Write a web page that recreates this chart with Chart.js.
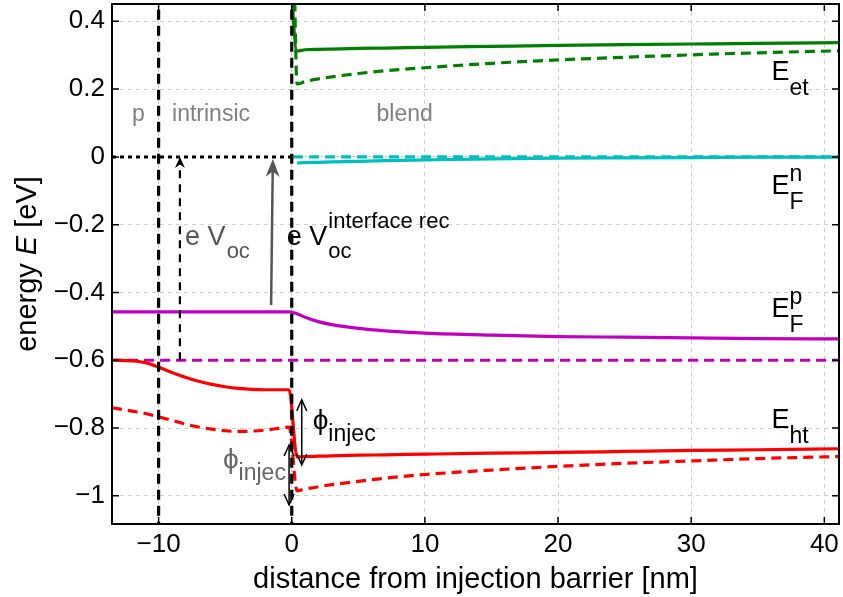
<!DOCTYPE html>
<html>
<head>
<meta charset="utf-8">
<script src="https://cdn.jsdelivr.net/npm/chart.js@4.4.0/dist/chart.umd.min.js"></script>
<style>html,body{margin:0;background:#fff}canvas{display:block}</style>
</head>
<body>
<canvas id="c" width="843" height="597"></canvas>
<script>
// axes
const xTicks = [-10, 0, 10, 20, 30, 40];
const yTicks = [-1, -0.8, -0.6, -0.4, -0.2, 0, 0.2, 0.4];
const xRange = [-13.5, 41.1];
const yRange = [-1.083, 0.451];

// p + intrinsic layers (x < 0)
const xLeft       = [-13.5, -12, -11, -10, -9, -8, -7, -6, -5, -4, -3, -2, -1, -0.2];
const htSolidLeft = [-0.600, -0.602, -0.607, -0.620, -0.636, -0.650, -0.662, -0.671, -0.678, -0.683, -0.686, -0.687, -0.687, -0.687];
const htDashLeft  = [-0.740, -0.750, -0.757, -0.767, -0.777, -0.788, -0.797, -0.803, -0.808, -0.810, -0.809, -0.806, -0.801, -0.797];
const fpSolidLeft = [-0.457, -0.457, -0.457, -0.457, -0.457, -0.457, -0.457, -0.457, -0.457, -0.457, -0.457, -0.457, -0.457, -0.457];

// blend (x > 0)
const xBlend  = [0.4, 1, 2, 3, 5, 7, 10, 15, 20, 25, 30, 35, 41.1];
const etSolid = [0.312, 0.316, 0.317, 0.318, 0.320, 0.321, 0.323, 0.326, 0.329, 0.331, 0.333, 0.335, 0.337];
const etDash  = [0.215, 0.222, 0.230, 0.236, 0.246, 0.254, 0.263, 0.276, 0.286, 0.294, 0.301, 0.307, 0.313];
const fnSolid = [-0.018, -0.017, -0.016, -0.015, -0.013, -0.011, -0.009, -0.006, -0.004, -0.003, -0.002, -0.001, -0.001];
const fpSolid = [-0.463, -0.473, -0.486, -0.495, -0.506, -0.513, -0.520, -0.526, -0.530, -0.532, -0.534, -0.536, -0.537];
const htSolid = [-0.885, -0.884, -0.883, -0.882, -0.880, -0.879, -0.877, -0.874, -0.872, -0.869, -0.866, -0.864, -0.861];
const htDash  = [-0.985, -0.980, -0.973, -0.967, -0.957, -0.948, -0.937, -0.924, -0.913, -0.904, -0.897, -0.890, -0.884];

// E_et enters from above the plot at the barrier
const etSolidEntry = {x: -0.2, y: 0.6};
const etDashEntry  = {x: 0.15, y: 0.6};
// flat levels
const fnDashLevel = 0;     // quasi-Fermi level of electrons (dashed)
const fpDashLevel = -0.6;  // quasi-Fermi level of holes (dashed)
const layerEdges = [-10, 0];

// annotation positions (data units)
const vocArrow = {x: -8.4, y0: -0.6, y1: 0};
const vocIfArrow = {x0: -1.55, y0: -0.437, x1: -1.42, y1: -0.006};
const phiArrow = {x: 0.75, y0: -0.717, y1: -0.909};
const phiArrowGray = {x: -0.2, y0: -0.850, y1: -1.027};

const pts = (xs, ys) => xs.map((x, i) => ({x, y: ys[i]}));
const FONT = '"Liberation Sans", Arial, Helvetica, sans-serif';

function line(data, color, dash, width) {
  return {data, borderColor: color, borderWidth: width || 3.2, borderDash: dash || [],
    pointRadius: 0, showLine: true, fill: false, cubicInterpolationMode: 'monotone'};
}
function straight(data, dash, width) {
  return {data, borderColor: '#000', borderWidth: width || 3.2, borderDash: dash,
    pointRadius: 0, showLine: true, fill: false, tension: 0};
}

const datasets = [
  straight([{x: layerEdges[0], y: -1.2}, {x: layerEdges[0], y: 0.6}], [10, 6]),
  straight([{x: layerEdges[1], y: -1.2}, {x: layerEdges[1], y: 0.6}], [10, 6]),
  straight([{x: xRange[0], y: 0}, {x: 0, y: 0}], [4, 4], 3),
  line(pts(xLeft, htSolidLeft).concat(pts(xBlend, htSolid)), '#ff0000'),
  line(pts(xLeft, htDashLeft).concat(pts(xBlend, htDash)), '#ff0000', [10, 6]),
  line(pts(xLeft, fpSolidLeft).concat(pts(xBlend, fpSolid)), '#bf00bf'),
  line([{x: xRange[0], y: fpDashLevel}, {x: xRange[1], y: fpDashLevel}], '#bf00bf', [10, 6]),
  line(pts(xBlend, fnSolid), '#00bfbf'),
  line([{x: 0.1, y: fnDashLevel}, {x: xRange[1], y: fnDashLevel}], '#00bfbf', [10, 6]),
  line([etSolidEntry].concat(pts(xBlend, etSolid)), '#008000'),
  line([etDashEntry].concat(pts(xBlend, etDash)), '#008000', [10, 6])
];

function arrowHead(ctx, x, y, ang, len, half, filled) {
  const bx = x - len * Math.cos(ang), by = y - len * Math.sin(ang);
  const px = -Math.sin(ang) * half, py = Math.cos(ang) * half;
  ctx.beginPath();
  if (filled) {
    const nx = x - len * 0.7 * Math.cos(ang), ny = y - len * 0.7 * Math.sin(ang);
    ctx.moveTo(x, y); ctx.lineTo(bx + px, by + py); ctx.lineTo(nx, ny); ctx.lineTo(bx - px, by - py);
    ctx.closePath(); ctx.fill();
  } else {
    ctx.moveTo(bx + px, by + py); ctx.lineTo(x, y); ctx.lineTo(bx - px, by - py); ctx.stroke();
  }
}

// text with optional sub/superscript
function tex(ctx, x, y, base, sub, sup, o) {
  ctx.fillStyle = o.color;
  ctx.textBaseline = 'alphabetic';
  ctx.textAlign = 'left';
  ctx.font = o.size + 'px ' + FONT;
  ctx.fillText(base, x, y);
  const w = ctx.measureText(base).width + (o.gap || 0);
  ctx.font = o.small + 'px ' + FONT;
  if (sub) ctx.fillText(sub, x + w, y + o.drop);
  if (sup) ctx.fillText(sup, x + w, y - o.rise);
}

const overlay = {
  id: 'overlay',
  afterDatasetsDraw(chart) {
    const {ctx, chartArea: a, scales: {x, y}} = chart;
    const X = v => x.getPixelForValue(v), Y = v => y.getPixelForValue(v);
    ctx.save();

    // e V_oc dashed arrow
    ctx.strokeStyle = '#000'; ctx.fillStyle = '#000'; ctx.lineWidth = 2.2;
    ctx.setLineDash([8, 6]);
    ctx.beginPath(); ctx.moveTo(X(vocArrow.x), Y(vocArrow.y0)); ctx.lineTo(X(vocArrow.x), Y(vocArrow.y1) + 6); ctx.stroke();
    ctx.setLineDash([]);
    arrowHead(ctx, X(vocArrow.x), Y(vocArrow.y1), -Math.PI / 2, 11, 5, true);

    // interface rec arrow (gray)
    ctx.strokeStyle = '#555'; ctx.fillStyle = '#555'; ctx.lineWidth = 2.5;
    const gx0 = X(vocIfArrow.x0), gy0 = Y(vocIfArrow.y0), gx1 = X(vocIfArrow.x1), gy1 = Y(vocIfArrow.y1);
    const ga = Math.atan2(gy1 - gy0, gx1 - gx0);
    ctx.beginPath(); ctx.moveTo(gx0, gy0); ctx.lineTo(gx1 - 10 * Math.cos(ga), gy1 - 10 * Math.sin(ga)); ctx.stroke();
    arrowHead(ctx, gx1, gy1, ga, 18, 7, true);

    // injection barrier double arrows
    ctx.strokeStyle = '#000'; ctx.lineWidth = 1.5;
    [phiArrow, phiArrowGray].forEach(p => {
      const px = X(p.x), p0 = Y(p.y0), p1 = Y(p.y1);
      ctx.beginPath(); ctx.moveTo(px, p0); ctx.lineTo(px, p1); ctx.stroke();
      arrowHead(ctx, px, p0, -Math.PI / 2, 11, 5, false);
      arrowHead(ctx, px, p1, Math.PI / 2, 11, 5, false);
    });

    // frame and inward ticks
    ctx.strokeStyle = '#000'; ctx.lineWidth = 2;
    ctx.strokeRect(a.left, a.top, a.right - a.left, a.bottom - a.top);
    ctx.lineWidth = 1.5;
    ctx.beginPath();
    xTicks.forEach(v => { const p = X(v); ctx.moveTo(p, a.bottom); ctx.lineTo(p, a.bottom - 7); ctx.moveTo(p, a.top); ctx.lineTo(p, a.top + 7); });
    yTicks.forEach(v => { const p = Y(v); ctx.moveTo(a.left, p); ctx.lineTo(a.left + 7, p); ctx.moveTo(a.right, p); ctx.lineTo(a.right - 7, p); });
    ctx.stroke();

    // layer names
    ctx.font = '23px ' + FONT; ctx.fillStyle = '#808080'; ctx.textBaseline = 'alphabetic'; ctx.textAlign = 'left';
    ctx.fillText('p', X(-11.99), Y(0.106));
    ctx.fillText('intrinsic', X(-8.99), Y(0.106));
    ctx.fillText('blend', X(6.37), Y(0.106));

    // voltages
    const v = {size: 27, small: 22, drop: 13, rise: 17, gap: 1};
    tex(ctx, X(-8.01), Y(-0.26), 'e V', 'oc', null, Object.assign({color: '#555'}, v));
    tex(ctx, X(-0.37), Y(-0.26), 'e V', 'oc', 'interface rec', Object.assign({color: '#000'}, v));

    // level names
    const e = {size: 27, small: 23, drop: 15, rise: 13, color: '#000'};
    tex(ctx, X(36.03), Y(0.227), 'E', 'et', null, e);
    tex(ctx, X(36.03), Y(-0.109), 'E', 'F', 'n', e);
    tex(ctx, X(36.03), Y(-0.472), 'E', 'F', 'p', e);
    tex(ctx, X(36.03), Y(-0.799), 'E', 'ht', null, e);

    // barriers
    const f = {size: 28, small: 23, drop: 12, rise: 0, gap: 0};
    tex(ctx, X(1.57), Y(-0.838) - 12, '\u03d5', 'injec', null, Object.assign({color: '#000'}, f));
    tex(ctx, X(-5.17), Y(-0.953) - 12, '\u03d5', 'injec', null, Object.assign({color: '#666'}, f));

    // y axis title with italic E
    ctx.save();
    ctx.translate(28, (a.top + a.bottom) / 2);
    ctx.rotate(-Math.PI / 2);
    ctx.fillStyle = '#000'; ctx.textBaseline = 'middle';
    const parts = [['energy ', ''], ['E', 'italic '], [' [eV]', '']];
    let tw = 0;
    parts.forEach(p => { ctx.font = p[1] + '29px ' + FONT; tw += ctx.measureText(p[0]).width; });
    let cx = -tw / 2;
    parts.forEach(p => { ctx.font = p[1] + '29px ' + FONT; ctx.fillText(p[0], cx, 0); cx += ctx.measureText(p[0]).width; });
    ctx.restore();

    ctx.restore();
  }
};

const fmt = v => (Math.abs(v) < 1e-9 ? '0' : String(+v.toFixed(1)).replace('-', '\u2212'));
const noPad = s => { s.paddingTop = 0; s.paddingBottom = 0; s.paddingLeft = 0; s.paddingRight = 0; };

new Chart(document.getElementById('c'), {
  type: 'scatter',
  data: {datasets},
  options: {
    responsive: false,
    animation: false,
    layout: {padding: {top: 4, right: 4, left: 0, bottom: 0}},
    plugins: {legend: {display: false}, tooltip: {enabled: false}},
    scales: {
      x: {
        type: 'linear', min: xRange[0], max: xRange[1],
        afterBuildTicks: s => { s.ticks = xTicks.map(value => ({value})); },
        afterFit: s => { s.height = 73; noPad(s); },
        ticks: {font: {family: FONT, size: 26}, color: '#000', padding: 5, maxRotation: 0, callback: fmt},
        grid: {color: '#d0d0d0', lineWidth: 1, drawTicks: false},
        border: {display: false, dash: [4, 4]},
        title: {display: true, text: 'distance from injection barrier [nm]', color: '#000',
          font: {family: FONT, size: 29}, padding: {top: 0, bottom: 0}}
      },
      y: {
        type: 'linear', min: yRange[0], max: yRange[1],
        afterBuildTicks: s => { s.ticks = yTicks.map(value => ({value})); },
        afterFit: s => { s.width = 112; noPad(s); },
        ticks: {font: {family: FONT, size: 26}, color: '#000', padding: 7, callback: fmt},
        grid: {color: '#d0d0d0', lineWidth: 1, drawTicks: false},
        border: {display: false, dash: [4, 4]}
      }
    }
  },
  plugins: [overlay]
});
</script>
</body>
</html>
